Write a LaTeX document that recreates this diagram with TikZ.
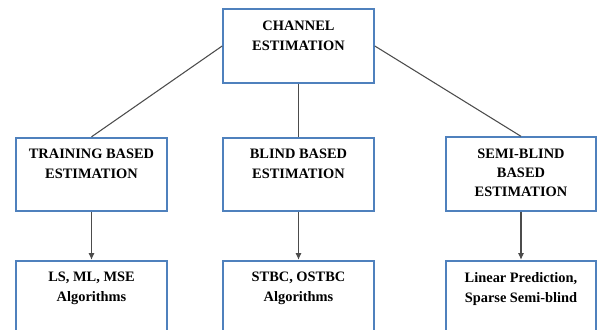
\documentclass[tikz,border=0pt]{standalone}
\usepackage{fontspec}
\setmainfont{Liberation Serif}
\newfontfamily\boxfont{Liberation Serif}
\usetikzlibrary{arrows.meta}
\definecolor{boxblue}{RGB}{79,129,189}

\begin{document}
\begin{tikzpicture}[x=0.75pt, y=-0.75pt]
\tikzset{block/.style = {shape=rectangle, draw=boxblue, line width=1.5pt, minimum width=113pt, minimum height=55pt, inner sep=0pt}}
    \tikzset{caption/.style = {anchor=north, align=center, inner sep=0pt, yshift=-9pt, font=\boxfont\fontsize{10.8}{15}\selectfont\bfseries}}
    \tikzset{link/.style = {draw=black!70, line width=0.8pt}}
    \tikzset{down/.style = {link, -{Latex[length=5pt, width=4.5pt]}}}
\useasboundingbox (0,0) rectangle (597,329);
\clip (0,0) rectangle (597,329);
% Boxes: top, middle row, bottom row (cut at the lower edge)
\node[block] (ce) at (298.5,46){};
\node[block] (tr) at (91.5,174.5){};
\node[block] (bl) at (298.5,174.5){};
\node[block] (sb) at (521,174){};
\node[block] (trAlg) at (91.5,297.5){};
\node[block] (blAlg) at (298.5,297.5){};
\node[block] (sbAlg) at (521,297.5){};

% Texts sit at the top of each box
\node[caption] (ceText) at (ce.north){CHANNEL\\ESTIMATION};
\node[caption] (trText) at (tr.north){TRAINING BASED\\ESTIMATION};
\node[caption] (blText) at (bl.north){BLIND BASED\\ESTIMATION};
\node[caption, font=\boxfont\fontsize{10.8}{14.3}\selectfont\bfseries] (sbText) at (sb.north){SEMI-BLIND\\BASED\\ESTIMATION};
\node[caption] (trAlgText) at (trAlg.north){LS, ML, MSE\\Algorithms};
\node[caption] (blAlgText) at (blAlg.north){STBC, OSTBC\\Algorithms};
\node[caption] (sbAlgText) at (sbAlg.north){Linear Prediction,\\Sparse Semi-blind};

% Draw the branches
\draw[link] (ce.west) -- (tr.north);
\draw[link] (ce.south) -- (bl.north);
\draw[link] (ce.east) -- (sb.north);
\draw[down] (tr.south) -- (trAlg.north);
\draw[down] (bl.south) -- (blAlg.north);
\draw[down] (sb.south) -- (sbAlg.north);

\end{tikzpicture}
\end{document}
